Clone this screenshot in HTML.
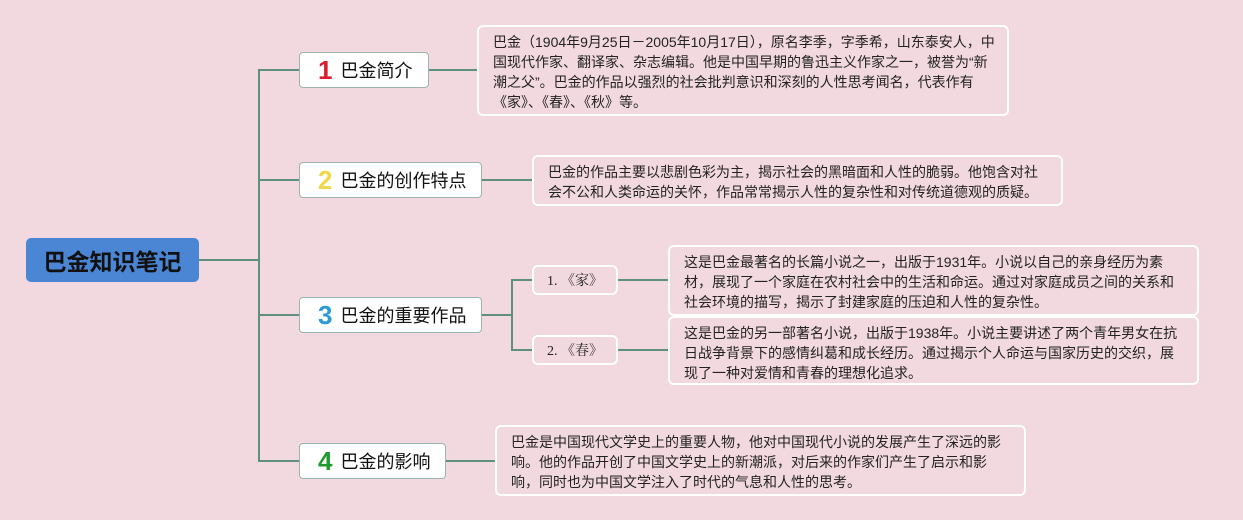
<!DOCTYPE html>
<html><head><meta charset="utf-8"><style>
body{margin:0;width:1243px;height:520px;background:#f2d9df;position:relative;overflow:hidden;font-family:"Liberation Sans","Noto Sans CJK SC",sans-serif;}
.a{position:absolute;box-sizing:border-box;}
.l{position:absolute;background:#5f8f7f;}
.n{position:absolute;box-sizing:border-box;background:#fff;border:1.5px solid #9bb5ad;border-radius:4px;font-size:18px;color:#111;display:flex;align-items:center;padding-left:18px;white-space:nowrap}
.n b{font-size:26px;font-weight:900;margin-right:8px;font-family:"Liberation Sans",sans-serif}
.t{position:absolute;box-sizing:border-box;border:2px solid #fff;border-radius:6px;font-size:14px;line-height:20px;color:#222;padding:5px 0 0 14px;white-space:nowrap}
.s{position:absolute;box-sizing:border-box;border:2px solid #fff;border-radius:6px;font-size:14px;color:#222;display:flex;align-items:center;justify-content:center;font-family:"Liberation Serif","Noto Serif CJK SC",serif}
</style></head><body>
<div class="l" style="left:198px;top:259px;width:61px;height:2px"></div>
<div class="l" style="left:258px;top:69px;width:2px;height:393px"></div>
<div class="l" style="left:258px;top:69px;width:41px;height:2px"></div>
<div class="l" style="left:258px;top:179px;width:41px;height:2px"></div>
<div class="l" style="left:258px;top:314px;width:41px;height:2px"></div>
<div class="l" style="left:258px;top:460px;width:41px;height:2px"></div>
<div class="l" style="left:428px;top:69px;width:49px;height:2px"></div>
<div class="l" style="left:482px;top:179px;width:50px;height:2px"></div>
<div class="l" style="left:446px;top:460px;width:49px;height:2px"></div>
<div class="l" style="left:482px;top:314px;width:30px;height:2px"></div>
<div class="l" style="left:511px;top:279px;width:2px;height:72px"></div>
<div class="l" style="left:511px;top:279px;width:21px;height:2px"></div>
<div class="l" style="left:511px;top:349px;width:21px;height:2px"></div>
<div class="l" style="left:618px;top:279px;width:50px;height:2px"></div>
<div class="l" style="left:618px;top:349px;width:50px;height:2px"></div>

<div class="a" style="left:26px;top:238px;width:173px;height:44px;background:#4a86d4;border-radius:5px;color:#111;font-weight:bold;font-size:23px;display:flex;align-items:center;justify-content:center">巴金知识笔记</div>

<div class="n" style="left:299px;top:52px;width:130px;height:36px"><b style="color:#d8202e">1</b>巴金简介</div>
<div class="n" style="left:299px;top:162px;width:183px;height:36px"><b style="color:#f0d84a">2</b>巴金的创作特点</div>
<div class="n" style="left:299px;top:297px;width:183px;height:36px"><b style="color:#2a9ad8">3</b>巴金的重要作品</div>
<div class="n" style="left:299px;top:443px;width:147px;height:36px"><b style="color:#1f9a2e">4</b>巴金的影响</div>

<div class="t" style="left:477px;top:25px;width:532px;height:91px">巴金（1904年9月25日－2005年10月17日），原名李季，字季希，山东泰安人，中<br>国现代作家、翻译家、杂志编辑。他是中国早期的鲁迅主义作家之一，被誉为“新<br>潮之父”。巴金的作品以强烈的社会批判意识和深刻的人性思考闻名，代表作有<br>《家》、《春》、《秋》等。</div>
<div class="t" style="left:532px;top:155px;width:531px;height:51px">巴金的作品主要以悲剧色彩为主，揭示社会的黑暗面和人性的脆弱。他饱含对社<br>会不公和人类命运的关怀，作品常常揭示人性的复杂性和对传统道德观的质疑。</div>
<div class="s" style="left:532px;top:265px;width:86px;height:30px">1. 《家》</div>
<div class="s" style="left:532px;top:335px;width:86px;height:30px">2. 《春》</div>
<div class="t" style="left:668px;top:245px;width:531px;height:71px">这是巴金最著名的长篇小说之一，出版于1931年。小说以自己的亲身经历为素<br>材，展现了一个家庭在农村社会中的生活和命运。通过对家庭成员之间的关系和<br>社会环境的描写，揭示了封建家庭的压迫和人性的复杂性。</div>
<div class="t" style="left:668px;top:316px;width:531px;height:69px">这是巴金的另一部著名小说，出版于1938年。小说主要讲述了两个青年男女在抗<br>日战争背景下的感情纠葛和成长经历。通过揭示个人命运与国家历史的交织，展<br>现了一种对爱情和青春的理想化追求。</div>
<div class="t" style="left:495px;top:425px;width:531px;height:71px">巴金是中国现代文学史上的重要人物，他对中国现代小说的发展产生了深远的影<br>响。他的作品开创了中国文学史上的新潮派，对后来的作家们产生了启示和影<br>响，同时也为中国文学注入了时代的气息和人性的思考。</div>
</body></html>
